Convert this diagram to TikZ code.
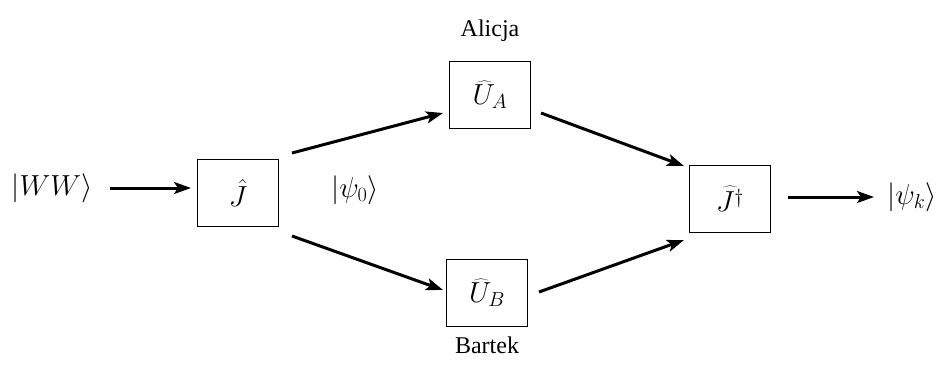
\RequirePackage{fix-cm}
\documentclass[tikz,border=0pt]{standalone}
\usepackage{fontspec}
\setmainfont{Liberation Serif}
\usetikzlibrary{arrows.meta}
\begin{document}
\begin{tikzpicture}[x=1pt,y=-1pt,
  opbox/.style={draw,line width=1.3pt,minimum width=81pt,minimum height=67pt,inner sep=0pt,font=\fontsize{29}{32}\selectfont},
  lbl/.style={inner sep=0pt,font=\fontsize{24}{28}\selectfont},
  mlbl/.style={inner sep=0pt,font=\fontsize{29}{32}\selectfont},
  arr/.style={line width=3pt,-{Stealth[length=17pt,width=12pt,inset=4pt]}}]
\useasboundingbox (0,0) rectangle (946,365);
\node[mlbl] (ww) at (52,188) {$|WW\rangle$};
\node[opbox] (J) at (238,193) {$\hat{J}$};
\node[mlbl] (psi0) at (355,190) {$|\psi_0\rangle$};
\node[opbox] (UA) at (490,95) {$\widehat{U}_A$};
\node[lbl] (al) at (490,31) {Alicja};
\node[opbox] (UB) at (487,293) {$\widehat{U}_B$};
\node[lbl] (ba) at (487,345) {Bartek};
\node[opbox] (Jd) at (730,199) {$\widehat{J^{\dagger}}$};
\node[mlbl] (psik) at (912,197) {$|\psi_k\rangle$};
\coordinate (a1s) at (110,188); \coordinate (a1e) at (191,188);
\draw[arr] (a1s) -- (a1e);
\coordinate (u1s) at (292,153); \coordinate (u1e) at (443,113);
\draw[arr] (u1s) -- (u1e);
\coordinate (d1s) at (292,236); \coordinate (d1e) at (443,290);
\draw[arr] (d1s) -- (d1e);
\coordinate (u2s) at (541,113); \coordinate (u2e) at (684,166);
\draw[arr] (u2s) -- (u2e);
\coordinate (d2s) at (539,292); \coordinate (d2e) at (684,240);
\draw[arr] (d2s) -- (d2e);
\coordinate (a2s) at (788,197); \coordinate (a2e) at (874,197);
\draw[arr] (a2s) -- (a2e);
\end{tikzpicture}
\end{document}
